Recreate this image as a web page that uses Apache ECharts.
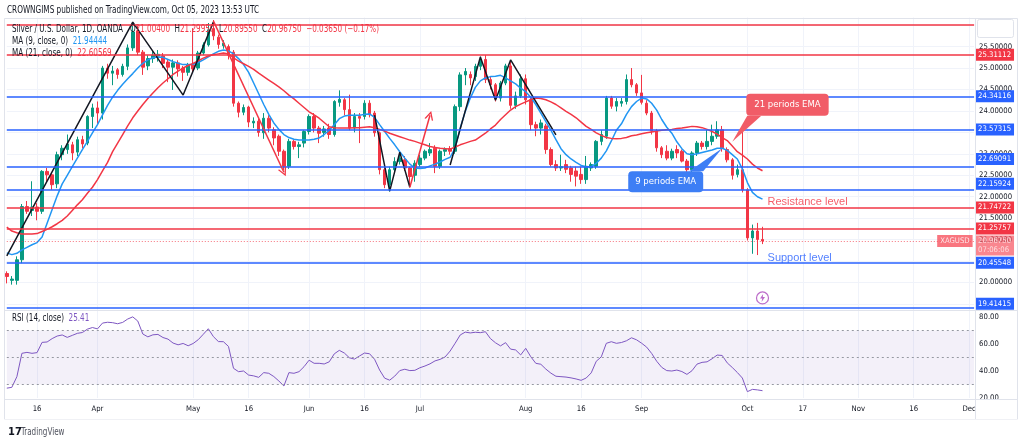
<!DOCTYPE html>
<html><head><meta charset="utf-8">
<script src="https://cdn.jsdelivr.net/npm/echarts@6/dist/echarts.min.js"></script>
<style>html,body{margin:0;padding:0;background:#fff}#c{width:1024px;height:443px}</style>
</head><body><div id="c"></div><script>
// ---- trading days (category axis) ----
const marDays = [8,9,10,13,14,15,16,17,20,21,22,23,24,27,28,29,30,31];
const aprDays = [3,4,5,6,10,11,12,13,14,17,18,19,20,21,24,25,26,27,28];
const mayDays = [1,2,3,4,5,8,9,10,11,12,15,16,17,18,19,22,23,24,25,26,29,30,31];
const junDays = [1,2,5,6,7,8,9,12,13,14,15,16,19,20,21,22,23,26,27,28,29,30];
const julDays = [3,4,5,6,7,10,11,12,13,14,17,18,19,20,21,24,25,26,27,28,31];
const augDays = [1,2,3,4,7,8,9,10,11,14,15,16,17,18,21,22,23,24,25,28,29,30,31];
const sepDays = [1,4,5,6,7,8,11,12,13,14,15,18,19,20,21,22,25,26,27,28,29];
const octDays = [2,3,4,5,6,9,10,11,12,13,16,17,18,19,20,23,24,25,26,27,30,31];
const novDays = [1,2,3,6,7,8,9,10,13,14,15,16,17,20,21,22,23,24,27,28,29,30];
const decDays = [1,4];
const tickLabels = {'03-16':'16','04-03':'Apr','05-01':'May','05-16':'16','06-01':'Jun','06-16':'16','07-03':'Jul','08-01':'Aug','08-16':'16','09-01':'Sep','10-02':'Oct','10-17':'17','11-01':'Nov','11-16':'16','12-01':'Dec'};

// ---- daily candles [open, high, low, close] ----
const ohlc = [
[20.21,20.26,19.98,20.14],[20.05,20.15,19.95,20.08],[20.05,20.61,19.95,20.53],[20.53,21.83,20.45,21.77],[21.77,21.90,21.60,21.66],
[21.68,22.36,21.55,21.76],[21.76,21.85,21.45,21.66],[21.66,22.62,21.60,22.59],[22.59,22.67,22.35,22.51],[22.51,22.55,22.16,22.28],
[22.30,23.05,22.20,22.98],[22.98,23.20,22.85,23.13],[23.10,23.45,23.00,23.23],[23.21,23.28,22.85,23.02],[23.04,23.40,22.95,23.33],
[23.33,23.42,23.13,23.23],[23.25,23.90,23.20,23.87],[23.87,24.17,23.60,24.07],[24.07,24.22,23.70,23.95],[23.95,25.05,23.80,25.00],
[25.00,25.10,24.75,24.88],[24.88,25.05,24.60,24.93],[24.96,25.00,24.75,24.85],[24.85,25.10,24.80,25.04],[25.04,25.55,24.95,25.47],
[25.47,26.07,25.40,25.84],[25.84,25.98,25.30,25.37],[25.37,25.42,24.84,25.02],[25.05,25.30,24.95,25.22],[25.22,25.40,25.12,25.30],
[25.28,25.42,25.15,25.32],[25.28,25.35,25.00,25.11],[25.14,25.20,24.67,25.02],[25.02,25.20,24.49,25.12],[25.12,25.18,24.80,24.98],
[25.00,25.05,24.70,24.90],[24.90,25.12,24.82,25.07],[25.07,25.93,24.90,24.98],[25.00,25.40,24.95,25.35],[25.35,25.60,25.30,25.54],
[25.54,26.05,25.50,25.89],[25.92,26.12,25.65,25.75],[25.72,25.78,25.45,25.55],[25.52,25.65,25.45,25.58],[25.50,25.55,25.20,25.30],
[25.37,25.42,24.10,24.18],[24.18,24.22,23.85,23.97],[23.97,24.15,23.90,24.08],[24.09,24.12,23.62,23.74],[23.72,23.85,23.60,23.76],
[23.76,23.82,23.40,23.50],[23.49,23.95,23.35,23.83],[23.83,23.90,23.50,23.60],[23.56,23.62,23.20,23.37],[23.41,23.45,22.95,23.06],
[23.06,23.10,22.62,22.71],[22.71,23.35,22.65,23.29],[23.29,23.32,23.10,23.17],[23.17,23.28,22.90,23.21],[23.25,23.55,23.15,23.52],
[23.52,23.92,23.45,23.87],[23.87,23.95,23.50,23.60],[23.60,23.65,23.25,23.48],[23.50,23.65,23.40,23.58],[23.60,23.70,23.35,23.45],
[23.45,24.25,23.40,24.22],[24.20,24.48,24.10,24.27],[24.26,24.30,23.90,24.03],[24.03,24.38,23.55,23.60],[23.60,23.95,23.50,23.87],
[23.87,23.95,23.25,23.83],[23.87,24.25,23.80,24.18],[24.18,24.25,23.85,23.91],[23.95,24.00,23.40,23.49],[23.49,23.52,22.52,22.63],
[22.63,22.70,22.20,22.28],[22.28,22.70,22.12,22.63],[22.63,22.92,22.55,22.82],[22.82,23.05,22.75,22.90],[22.86,22.95,22.60,22.67],
[22.67,22.70,22.22,22.47],[22.50,22.85,22.35,22.78],[22.75,22.98,22.70,22.90],[22.90,23.10,22.85,23.06],[23.02,23.25,22.95,23.10],
[23.13,23.20,22.55,22.71],[22.71,23.10,22.65,23.06],[23.06,23.15,22.95,23.10],[23.12,23.18,22.98,23.06],[23.06,24.15,23.00,24.10],
[24.10,24.90,24.00,24.84],[24.84,25.00,24.60,24.92],[24.85,24.92,24.60,24.77],[24.80,25.10,24.70,25.04],[25.04,25.27,24.95,25.20],
[25.20,25.30,24.65,24.73],[24.73,24.80,24.50,24.61],[24.61,24.65,24.22,24.30],[24.30,24.70,24.22,24.65],[24.65,25.10,24.60,25.05],
[25.05,25.19,24.05,24.13],[24.13,24.45,24.05,24.35],[24.35,24.85,24.30,24.75],[24.75,24.85,24.15,24.26],[24.26,24.30,23.55,23.68],
[23.68,23.75,23.41,23.60],[23.60,23.80,23.45,23.72],[23.65,23.70,23.00,23.10],[23.10,23.15,22.70,22.75],[22.75,22.85,22.60,22.67],
[22.67,22.98,22.60,22.70],[22.75,22.86,22.55,22.64],[22.67,22.72,22.35,22.52],[22.60,22.70,22.24,22.48],[22.52,22.70,22.30,22.40],
[22.40,22.95,22.30,22.71],[22.67,22.80,22.60,22.75],[22.71,23.32,22.65,23.29],[23.29,23.55,23.20,23.45],[23.41,24.35,23.35,24.30],
[24.30,24.35,24.05,24.11],[24.11,24.30,23.99,24.22],[24.18,24.30,24.10,24.22],[24.22,24.85,24.15,24.73],[24.73,25.00,24.55,24.61],
[24.61,24.65,24.35,24.42],[24.42,24.84,24.15,24.20],[24.18,24.25,23.90,23.95],[23.95,24.00,23.45,23.53],[23.53,23.58,23.05,23.14],
[23.14,23.18,22.90,22.98],[23.06,23.20,22.85,22.90],[22.90,23.12,22.85,23.06],[23.10,23.20,22.90,23.02],[23.06,23.10,22.80,22.83],
[22.83,22.88,22.52,22.63],[22.63,23.06,22.55,23.02],[23.02,23.30,22.95,23.25],[23.25,23.30,23.10,23.17],[23.17,23.56,23.10,23.29],
[23.29,23.68,23.20,23.41],[23.41,23.76,23.35,23.56],[23.56,23.65,23.05,23.14],[23.10,23.15,22.80,22.86],[22.86,22.90,22.40,22.50],
[22.52,22.75,22.45,22.63],[22.63,23.53,22.10,22.16],[22.16,22.20,20.98,21.04],[21.04,21.35,20.67,21.20],[21.20,21.39,20.64,21.004],
[21.004,21.2995,20.8955,20.9675]
];

// ---- moving averages ----
const ma9 = [20.69,20.65,20.68,20.76,20.82,20.88,20.93,21.06,21.38,21.70,
22.02,22.30,22.50,22.70,22.90,23.10,23.29,23.49,23.68,23.91,
24.13,24.32,24.48,24.62,24.75,24.87,25.00,25.11,25.19,25.24,
25.26,25.25,25.20,25.15,25.11,25.08,25.08,25.09,25.13,25.19,
25.26,25.33,25.39,25.42,25.40,25.33,25.22,25.08,24.90,24.65,
24.40,24.15,23.92,23.72,23.57,23.45,23.38,23.34,23.32,23.32,
23.32,23.34,23.37,23.45,23.55,23.68,23.82,23.88,23.90,23.90,
23.90,23.92,23.93,23.85,23.68,23.52,23.36,23.21,23.05,22.90,
22.76,22.67,22.66,22.67,22.72,22.76,22.81,22.87,22.92,23.14,
23.60,23.99,24.30,24.55,24.70,24.77,24.80,24.81,24.83,24.77,
24.70,24.63,24.53,24.45,24.32,24.15,23.95,23.75,23.55,23.33,
23.12,22.98,22.88,22.80,22.73,22.70,22.70,22.78,22.90,23.07,
23.30,23.55,23.70,23.92,24.10,24.22,24.30,24.28,24.18,24.02,
23.80,23.62,23.48,23.28,23.12,23.00,22.98,23.00,23.03,23.06,
23.09,23.13,23.13,23.08,22.98,22.88,22.65,22.33,22.10,22.00,
21.94444];
const ma21 = [21.29,21.20,21.16,21.13,21.13,21.13,21.14,21.19,21.24,21.30,
21.37,21.45,21.55,21.68,21.81,21.93,22.08,22.22,22.40,22.60,
22.80,23.05,23.25,23.45,23.65,23.84,24.00,24.15,24.29,24.42,
24.54,24.65,24.75,24.85,24.93,25.00,25.06,25.11,25.17,25.23,
25.28,25.31,25.33,25.35,25.33,25.24,25.16,25.10,25.04,24.97,
24.88,24.80,24.72,24.64,24.56,24.47,24.37,24.28,24.18,24.08,
23.98,23.91,23.83,23.73,23.63,23.61,23.60,23.60,23.60,23.61,
23.61,23.62,23.63,23.61,23.57,23.53,23.48,23.44,23.40,23.36,
23.32,23.29,23.25,23.21,23.17,23.15,23.13,23.12,23.11,23.16,
23.21,23.25,23.29,23.32,23.40,23.48,23.58,23.67,23.80,23.91,
24.02,24.10,24.16,24.21,24.26,24.30,24.29,24.26,24.21,24.15,
24.07,23.99,23.92,23.84,23.74,23.64,23.57,23.49,23.43,23.38,
23.36,23.35,23.36,23.38,23.42,23.44,23.47,23.49,23.51,23.53,
23.55,23.56,23.57,23.59,23.60,23.62,23.64,23.63,23.61,23.57,
23.52,23.46,23.38,23.31,23.18,23.05,22.97,22.88,22.76,22.67,
22.60569];

// ---- RSI(14) ----
const rsi = [27.3,27.9,35.8,53.1,53.8,53.1,53.6,61.2,61.5,64.0,
65.9,66.7,64.9,66.4,67.9,68.5,71.0,72.2,71.2,75.5,
76.1,75.8,75.0,76.0,78.5,80.1,77.0,67.4,65.3,66.8,
67.1,64.8,63.6,60.7,59.4,60.4,58.7,60.4,63.2,67.2,
71.3,65.5,61.8,61.7,58.2,42.0,39.5,40.0,37.0,36.4,
35.3,38.8,38.3,35.9,32.6,28.9,38.8,38.3,39.5,43.2,
48.0,45.7,45.7,45.2,46.8,52.7,55.3,53.3,49.8,48.8,
51.1,53.3,52.8,48.7,40.7,34.7,33.2,36.2,40.3,41.3,
40.3,40.5,42.4,43.7,45.3,47.5,48.6,50.4,54.8,60.6,
66.7,68.8,68.2,68.7,68.4,69.1,64.0,60.9,58.6,61.0,
56.2,55.6,51.9,56.8,50.6,45.7,45.0,41.4,38.4,36.1,
35.8,35.5,34.9,34.1,33.1,34.8,38.6,47.2,50.5,60.5,
61.7,60.5,61.1,62.4,64.6,63.1,60.6,57.7,53.0,47.2,
42.7,40.3,40.0,40.7,39.6,37.5,40.2,45.1,46.4,46.8,
49.1,51.8,51.5,46.0,42.6,38.9,34.8,24.7,26.4,26.0,
25.41];
const rsiBands = [70, 50, 30];

// ---- drawn levels ----
const resistanceLevels = [26.003, 25.31112, 21.74722, 21.25757];
const supportLevels = [24.34116, 23.57315, 22.69091, 22.15924, 20.45548, 19.41415];
const unlabeledLevels = [26.003];
const countdown = '07:06:06';
// zigzag pattern lines [barIndex, price]
const zigzags = [
  [[0,20.62],[25,26.07],[35,24.37],[41,26.07]],
  [[73,23.90],[76,22.13],[78,23.04],[80,22.22]],
  [[88,22.74],[94,25.26],[97,24.25],[100,25.19],[109,23.44]]
];
const arrows = [ [[41,26.10],[55,22.57]], [[80,22.22],[84,23.90]] ];
const textNotes = [
  {at:[151,21.877], text:'Resistance level', kind:'res'},
  {at:[151,20.572], text:'Support level', kind:'sup'}
];
const eventIcon = [150, 19.64];
const ema21Anchor = [144, 23.28];
const ema9Anchor = [142, 23.13];

// ---------------------------------------------------------------
const UI = "'Liberation Sans Narrow','DejaVu Sans Condensed','Roboto Condensed',sans-serif";
const RED = '#f23645', BLUE = '#2962ff', GREEN = '#089981', MA9C = '#2196f3', PURPLE = '#7e57c2', TXT = '#131722';
const mctx = document.createElement('canvas').getContext('2d');
function textW(text, size, fam) { mctx.font = size + 'px ' + (fam || UI); return mctx.measureText(text).width; }
const fitSize = (text, target, base) => base * target / textW(text, base);
const AX = Math.min(10, fitSize('25.50000', 33, 10));      // axis / price-box font size
const headScale = 252 / textW('CROWNGIMS published on TradingView.com, Oct 05, 2023 13:53 UTC', 10.5);
const legScale = 111 / textW('Silver / U.S. Dollar, 1D, OANDA', 10);
const CALL = Math.min(11.5, fitSize('9 periods EMA', 61, 11));

const categories = [];
[['03',marDays],['04',aprDays],['05',mayDays],['06',junDays],['07',julDays],['08',augDays],['09',sepDays],['10',octDays],['11',novDays],['12',decDays]]
  .forEach(([m, ds]) => ds.forEach(d => categories.push(m + '-' + String(d).padStart(2,'0'))));
const isTick = (i, v) => tickLabels[v] !== undefined;
const last = a => a[a.length - 1];
const candleData = ohlc.map(r => [r[0], r[3], r[2], r[1]]);
const lastBar = last(ohlc), prevClose = ohlc[ohlc.length-2][3];
const lastClose = lastBar[3];
const labelNudge = {'22.69091':-8, '22.15924':-6, '19.41415':-4, '21.94444':-3, '22.60569':1};

function priceLabel(v, color, extra) {
  return Object.assign({show:true, position:'end', distance:1, formatter: v.toFixed(5), backgroundColor: color,
    color:'#fff', fontFamily: UI, fontSize: AX, lineHeight: 11, padding:[1,3,0,3],
    offset:[0, labelNudge[v.toFixed(5)] || 0]}, extra || {});
}
function level(v, color) {
  return {yAxis: v, lineStyle:{color, width:1.6, type:'solid'},
    label: unlabeledLevels.includes(v) ? {show:false} : priceLabel(v, color)};
}
const splitColors = [];
for (let i = 0; i < 16; i++) splitColors.push(i === 0 || i === 15 ? 'rgba(0,0,0,0)' : '#f0f3fa');

const chevron = 'path://M0,10 L5,0 L10,10 L8.4,10 L5,3.2 L1.6,10 Z';

const series = [
  {type:'candlestick', xAxisIndex:0, yAxisIndex:0, data: candleData, barWidth:3, clip:false,
   itemStyle:{color:GREEN, color0:RED, borderColor:GREEN, borderColor0:RED, borderWidth:1},
   markLine:{silent:true, symbol:['none','none'], animation:false,
     data: [
       ...resistanceLevels.map(v => level(v, RED)),
       ...supportLevels.map(v => level(v, BLUE)),
       {yAxis:lastClose, lineStyle:{color:RED, width:1, type:[1,2], opacity:0.7},
        label: priceLabel(lastClose, '#f7525f', {formatter: lastClose.toFixed(5) + '\n' + countdown, lineHeight:9.5, offset:[0,4.5]})}
     ]}},
  {type:'line', name:'MA9', xAxisIndex:0, yAxisIndex:0, data: ma9, showSymbol:false, symbol:'none',
   lineStyle:{color:MA9C, width:1.5}, z:3,
   markLine:{silent:true, symbol:['none','none'], data:[{yAxis:last(ma9), lineStyle:{opacity:0}, label: priceLabel(last(ma9), MA9C)}]}},
  {type:'line', name:'MA21', xAxisIndex:0, yAxisIndex:0, data: ma21, showSymbol:false, symbol:'none',
   lineStyle:{color:RED, width:1.5}, z:3,
   markLine:{silent:true, symbol:['none','none'], data:[{yAxis:last(ma21), lineStyle:{opacity:0}, label: priceLabel(last(ma21), RED)}]}},
  ...zigzags.map((pts, k) => ({type:'line', xAxisIndex:0, yAxisIndex:0, data: pts, showSymbol:false, symbol:'none',
     lineStyle:{color:TXT, width:1.5}, z:4,
     markLine: k === 0 ? {silent:true, symbol:['none', chevron], symbolSize:[9,9],
        lineStyle:{color:RED, width:1.5, type:'solid'}, label:{show:false},
        data: arrows.map(a => [{coord:a[0]}, {coord:a[1]}])} : undefined})),
  {type:'scatter', xAxisIndex:0, yAxisIndex:0, symbolSize:0, z:6, silent:true,
   data: [
     ...textNotes.map(n => ({value:n.at, label:{show:true, formatter:n.text, position:'right', distance:0,
        color: n.kind === 'res' ? RED : BLUE, fontFamily:"'Liberation Sans','Open Sans',sans-serif", fontSize:11}})),
     {value:[categories.length-1, lastClose], label:{show:true, formatter:'XAGUSD', position:'left', distance:1.5,
        color:'#fff', backgroundColor:'#f7525f', padding:[1,3,0,3], fontFamily:UI, fontSize:AX, lineHeight:11}}
   ]},
  {type:'scatter', xAxisIndex:0, yAxisIndex:0, z:6, silent:true, symbol:'circle', symbolSize:12,
   itemStyle:{color:'#fff', borderColor:'#ab47bc', borderWidth:1.2}, data:[eventIcon]},
  {type:'scatter', xAxisIndex:0, yAxisIndex:0, z:7, silent:true, symbol:'path://M6,0 L1,7 L4.5,7 L3.5,12 L9,4.5 L5.5,4.5 Z', symbolSize:[5,8],
   itemStyle:{color:'#ab47bc'}, data:[eventIcon]},
  {type:'line', name:'RSI', xAxisIndex:1, yAxisIndex:1, data: rsi, showSymbol:false, symbol:'none', clip:false,
   lineStyle:{color:PURPLE, width:1}, z:3,
   markArea:{silent:true, itemStyle:{color:'rgba(126,87,194,0.09)'}, data:[[{yAxis:30},{yAxis:70}]]},
   markLine:{silent:true, symbol:['none','none'],
     data:[
       ...rsiBands.map(v => ({yAxis:v, lineStyle:{color:'#9598a1', width:1, type:[2,3]}, label:{show:false}})),
       {yAxis:last(rsi), lineStyle:{opacity:0}, label:{show:true, position:'end', distance:1, formatter: last(rsi).toFixed(2),
         backgroundColor:PURPLE, color:'#fff', fontFamily:UI, fontSize:AX, lineHeight:11, padding:[1,3,0,3]}}
     ]}}
];

const option = {
  animation:false,
  backgroundColor:'#ffffff',
  grid:[
    {left:6.8, width:967.3, top:3.7, height:321.7},
    {left:6.8, width:967.3, top:290, height:108}
  ],
  xAxis:[
    {type:'category', gridIndex:0, data:categories, boundaryGap:false, axisLine:{show:false}, axisTick:{show:false},
     axisLabel:{show:false}, splitLine:{show:true, interval:isTick, lineStyle:{color:'#f0f3fa'}}},
    {type:'category', gridIndex:1, data:categories, boundaryGap:false, axisLine:{show:false}, axisTick:{show:false},
     axisLabel:{show:true, interval:isTick, formatter:v => tickLabels[v] || '', color:TXT, fontFamily:UI, fontSize:AX, margin:7},
     splitLine:{show:true, interval:isTick, lineStyle:{color:'#f0f3fa'}}}
  ],
  yAxis:[
    {type:'value', gridIndex:0, position:'right', min:19, max:26.5, interval:0.5,
     axisLine:{show:false}, axisTick:{show:false},
     axisLabel:{margin:5, color:TXT, fontFamily:UI, fontSize:AX, formatter:v => v.toFixed(5), showMinLabel:false, showMaxLabel:false},
     splitLine:{show:true, lineStyle:{color:splitColors, width:1}}},
    {type:'value', gridIndex:1, position:'right', min:20, max:100, interval:20,
     axisLine:{show:false}, axisTick:{show:false}, splitLine:{show:false},
     axisLabel:{margin:5, color:TXT, fontFamily:UI, fontSize:AX, formatter:v => v.toFixed(2), showMaxLabel:false}}
  ],
  series
};

const chart = echarts.init(document.getElementById('c'));
chart.setOption(option);

// ---- chrome, legends and callouts ----
const f5 = v => v.toFixed(5);
const chg = lastClose - prevClose;
const pct = chg / prevClose * 100;
const minus = s => s.replace('-', '\u2212');
const richBase = {
  d:{fill:TXT, fontFamily:UI, fontSize:10},
  r:{fill:RED, fontFamily:UI, fontSize:10},
  b:{fill:MA9C, fontFamily:UI, fontSize:10},
  p:{fill:PURPLE, fontFamily:UI, fontSize:10}
};
const T = (x, y, text, sx, extra) => ({type:'text', x, y, z:101, silent:true, scaleX: sx,
  style:Object.assign({text, rich:richBase, fill:TXT, fontFamily:UI, fontSize:10, align:'left', verticalAlign:'middle'}, extra || {})});
const L = (x1, y1, x2, y2) => ({type:'line', z:90, silent:true, shape:{x1,y1,x2,y2}, style:{stroke:'#e0e3eb', lineWidth:1}});

const t21 = chart.convertToPixel({xAxisIndex:0, yAxisIndex:0}, ema21Anchor);
const t9 = chart.convertToPixel({xAxisIndex:0, yAxisIndex:0}, ema9Anchor);
const calloutFont = CALL + "px " + UI;

const graphic = [
  {type:'rect', z:100, silent:true, shape:{x:0, y:0, width:1024, height:17.5}, style:{fill:'#fff'}},
  {type:'rect', z:100, silent:true, shape:{x:0, y:419.5, width:1024, height:24}, style:{fill:'#fff'}},
  {type:'rect', z:90, silent:true, shape:{x:4.5, y:18.5, width:1013, height:401}, style:{fill:'none', stroke:'#e0e3eb', lineWidth:1}},
  L(975.5, 18.5, 975.5, 419.5),
  L(4.5, 310.5, 1017.5, 310.5),
  L(4.5, 399.5, 1017.5, 399.5),
  T(7, 10, 'CROWNGIMS published on TradingView.com, Oct 05, 2023 13:53 UTC', headScale, {fontSize:10.5, rich:{}}),
  T(12, 29, '{d|Silver / U.S. Dollar, 1D, OANDA}   {d|O}{r|' + f5(lastBar[0]) + '}  {d|H}{r|' + f5(lastBar[1]) + '}  {d|L}{r|' + f5(lastBar[2]) + '}  {d|C}{r|' + f5(lastBar[3]) + '}  {r|' + minus(chg.toFixed(5)) + ' (' + minus(pct.toFixed(2)) + '%)}', legScale),
  T(12, 41, '{d|MA (9, close, 0)}  {b|' + f5(last(ma9)) + '}', legScale),
  T(12, 53, '{d|MA (21, close, 0)}  {r|' + f5(last(ma21)) + '}', legScale),
  T(12, 318, '{d|RSI (14, close)}  {p|' + last(rsi).toFixed(2) + '}', legScale),
  {type:'rect', z:102, silent:true, shape:{x:977.5, y:19.5, width:36, height:18, r:2}, style:{fill:'#fff', stroke:'#e0e3eb', lineWidth:1}},
  T(983, 29, 'USD', 1, {z:103, fontSize:AX, rich:{}}),
  T(8, 432, '17', 1, {fontWeight:'bold', fontSize:11, rich:{}}),
  T(21, 432, 'TradingView', legScale, {fontSize:10, fill:'#50535e', rich:{}}),
  // 21 periods EMA callout
  {type:'polygon', z:60, silent:true, shape:{points:[[t21[0], t21[1]], [t21[0]+15, t21[1]-26], [t21[0]+29, t21[1]-26]]}, style:{fill:'#f15c67'}},
  {type:'text', z:61, silent:true, x:t21[0]+14, y:t21[1]-48,
   style:{text:'21 periods EMA', fill:'#fff', font:calloutFont, backgroundColor:'#f15c67', padding:[5,8,5,8], borderRadius:4, lineHeight:12, align:'left', verticalAlign:'top'}},
  // 9 periods EMA callout
  {type:'polygon', z:60, silent:true, shape:{points:[[t9[0], t9[1]], [t9[0]-33, t9[1]+23], [t9[0]-19, t9[1]+23]]}, style:{fill:'#3d7ef5'}},
  {type:'text', z:61, silent:true, x:t9[0]-19, y:t9[1]+23,
   style:{text:'9 periods EMA', fill:'#fff', font:calloutFont, backgroundColor:'#3d7ef5', padding:[5,7,5,7], borderRadius:4, lineHeight:11, align:'right', verticalAlign:'top'}}
];
chart.setOption({graphic});
</script></body></html>
